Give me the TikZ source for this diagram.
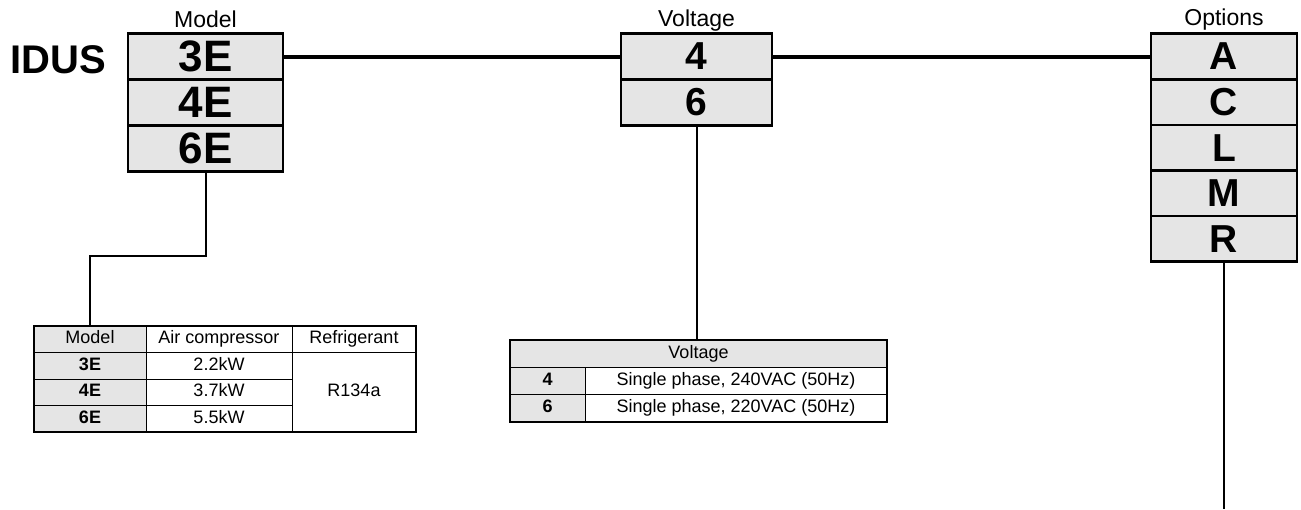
\documentclass[tikz,border=0pt]{standalone}
\usepackage{fontspec}
\setmainfont{Liberation Sans}
\usetikzlibrary{positioning}
\newcommand{\idusfont}{\fontsize{40}{40}\selectfont\bfseries}
\newcommand{\modelfont}{\fontsize{44}{44}\selectfont\bfseries}
\newcommand{\letterfont}{\fontsize{39}{39}\selectfont\bfseries}
\newcommand{\headfont}{\fontsize{23}{23}\selectfont}
\newcommand{\cellfont}{\fontsize{18}{18}\selectfont}
\tikzstyle{codebox} = [rectangle, draw, line width=2.5pt, fill=gray!20, minimum height=46pt, inner sep=0pt, outer sep=0pt]
\tikzstyle{modelbox} = [codebox, minimum width=155pt, font=\modelfont]
\tikzstyle{voltbox} = [codebox, minimum width=151pt, font=\letterfont]
\tikzstyle{optbox} = [codebox, minimum width=146pt, minimum height=45.6pt, font=\letterfont]
\tikzstyle{heading} = [anchor=base, font=\headfont]
\tikzstyle{cell} = [rectangle, draw, line width=0.8pt, fill=white, minimum height=26.5pt, inner sep=0pt, outer sep=0pt, text height=13pt, text depth=4pt, font=\cellfont]
\tikzstyle{keycell} = [cell, fill=gray!20]
\tikzstyle{bus} = [line width=4pt]
\tikzstyle{link} = [line width=2pt]
\begin{document}
\begin{tikzpicture}[x=1pt, y=1pt, node distance=46pt]
\useasboundingbox (0,0) rectangle (1301,-509);
\node (idus) [anchor=base, font=\idusfont] at (58,-73) {IDUS};
% model
\node (m1) [modelbox] at (205.5,-56.5) {3E};
\node (m2) [modelbox, below of=m1] {4E};
\node (m3) [modelbox, below of=m2] {6E};
\node (modelhead) [heading] at ([yshift=6pt]m1.north) {Model};
% voltage
\node (v1) [voltbox] at (696.5,-56.5) {4};
\node (v2) [voltbox, below of=v1] {6};
\node (volthead) [heading] at ([yshift=7pt]v1.north) {Voltage};
% options
\begin{scope}[node distance=45.6pt]
\node (o1) [optbox] at (1224,-56.5) {A};
\node (o2) [optbox, below of=o1] {C};
\node (o3) [optbox, below of=o2] {L};
\node (o4) [optbox, below of=o3] {M};
\node (o5) [optbox, below of=o4] {R};
\end{scope}
\node (opthead) [heading] at ([yshift=8pt]o1.north) {Options};
\coordinate (optend) at (1224,-509);
% model table
\node (mh1) [keycell, minimum width=112pt] at (90,-339.25) {Model};
\node (mh2) [cell, minimum width=146pt, right=0pt of mh1] {Air compressor};
\node (mh3) [cell, minimum width=124pt, right=0pt of mh2] {Refrigerant};
\node (mr1) [keycell, minimum width=112pt, below=0pt of mh1] {\bfseries 3E};
\node (mp1) [cell, minimum width=146pt, right=0pt of mr1] {2.2kW};
\node (mr2) [keycell, minimum width=112pt, below=0pt of mr1] {\bfseries 4E};
\node (mp2) [cell, minimum width=146pt, right=0pt of mr2] {3.7kW};
\node (mr3) [keycell, minimum width=112pt, below=0pt of mr2] {\bfseries 6E};
\node (mp3) [cell, minimum width=146pt, right=0pt of mr3] {5.5kW};
\node (mgas) [cell, minimum width=124pt, minimum height=79.5pt, anchor=north west] at (mp1.north east) {R134a};
\draw [line width=1.5pt] (mh1.north west) rectangle (mgas.south east);
% voltage table
\node (vh) [keycell, minimum width=377pt, minimum height=27.3pt] at (698.5,-353.65) {Voltage};
\node (vr1) [keycell, minimum width=75pt, minimum height=27.3pt, anchor=north west] at (vh.south west) {\bfseries 4};
\node (vd1) [cell, minimum width=302pt, minimum height=27.3pt, right=0pt of vr1] {Single phase, 240VAC (50Hz)};
\node (vr2) [keycell, minimum width=75pt, minimum height=27.3pt, below=0pt of vr1] {\bfseries 6};
\node (vd2) [cell, minimum width=302pt, minimum height=27.3pt, right=0pt of vr2] {Single phase, 220VAC (50Hz)};
\draw [line width=1.5pt] (vh.north west) rectangle (vd2.south east);
% connectors
\draw [bus] (m1.east) -- (v1.west);
\draw [bus] (v1.east) -- (o1.west);
\draw [link] (m3.south) -- ++(0,-84) -| (mh1.north);
\draw [link] (v2.south) -- (v2.south |- vh.north);
\draw [link] (o5.south) -- (optend);
\end{tikzpicture}
\end{document}
